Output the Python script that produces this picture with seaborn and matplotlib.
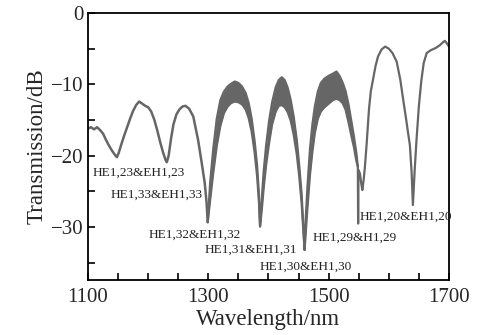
import matplotlib
matplotlib.use("Agg")
import matplotlib.pyplot as plt
from matplotlib.ticker import MultipleLocator
import seaborn as sns
import pandas as pd

# clean part of the spectrum before the noisy lobes (nm, dB)
wl_left = [1100, 1105, 1110, 1115, 1120, 1125, 1130, 1135, 1140, 1145, 1148, 1151,
           1155, 1160, 1165, 1170, 1175, 1180, 1185, 1190, 1195, 1200, 1205, 1210,
           1215, 1220, 1225, 1229, 1231, 1234, 1238, 1242, 1247, 1252, 1257, 1262,
           1268, 1275, 1283, 1289, 1294, 1297, 1299]
tr_left = [-16.2, -16.0, -16.3, -16.0, -16.4, -16.9, -17.8, -18.6, -19.3, -19.9, -20.2, -19.6,
           -18.5, -17.2, -16.0, -14.8, -13.7, -12.9, -12.4, -12.7, -13.0, -13.2, -13.8, -14.9,
           -16.4, -18.1, -19.6, -20.6, -20.9, -20.0, -17.6, -15.6, -14.2, -13.5, -13.1, -13.0,
           -13.4, -14.5, -17.8, -21.0, -23.8, -26.5, -29.3]

# noisy region 1300-1550 nm, upper and lower envelope of the trace
band_wl = [1299, 1303, 1308, 1314, 1320, 1326, 1332, 1338, 1344, 1350, 1356, 1362, 1367,
           1372, 1377, 1381, 1384, 1386,
           1389, 1392, 1396, 1401, 1406, 1412, 1417, 1422, 1427, 1432, 1437, 1442, 1447,
           1451, 1455, 1458, 1460,
           1462, 1465, 1469, 1473, 1477, 1482, 1487, 1493, 1500, 1507, 1513, 1518, 1523,
           1528, 1533, 1538, 1542, 1546, 1548.5]
band_hi = [-29.3, -23.8, -19.2, -14.8, -12.2, -11.0, -10.3, -9.9, -9.6, -9.8, -10.3, -11.2, -12.6,
           -14.8, -18.0, -21.3, -25.3, -29.9,
           -25.8, -22.2, -18.6, -15.1, -12.5, -10.4, -9.4, -9.0, -9.4, -10.5, -12.2, -14.6, -17.8,
           -21.3, -25.3, -30.0, -33.2,
           -28.6, -24.0, -19.0, -15.6, -13.1, -11.0, -9.8, -9.2, -8.8, -8.5, -8.2, -8.8, -9.7,
           -10.9, -12.8, -15.3, -17.3, -19.6, -21.5]
band_lo = [-29.3, -26.2, -22.5, -18.6, -15.8, -14.0, -13.1, -12.6, -12.4, -12.5, -12.8, -13.5, -14.7,
           -16.6, -19.6, -22.8, -26.3, -29.9,
           -27.4, -24.5, -21.3, -18.2, -15.6, -13.8, -13.0, -12.9, -13.2, -13.9, -15.1, -17.1, -19.8,
           -22.8, -26.6, -30.6, -33.2,
           -30.6, -27.0, -22.6, -19.4, -16.8, -14.8, -13.8, -13.2, -12.7, -12.2, -12.0, -12.2, -12.6,
           -13.5, -15.3, -17.3, -18.8, -20.7, -21.5]

# clean part after the noisy lobes
wl_right = [1548.5, 1549.0, 1549.5, 1552, 1554, 1556, 1558, 1560, 1563, 1567, 1570, 1574,
            1578, 1582, 1588, 1594, 1600, 1606, 1613, 1619, 1624, 1629, 1632, 1635,
            1638, 1640, 1643, 1646, 1650, 1654, 1658, 1663, 1670, 1678, 1685, 1690,
            1693, 1696, 1700]
tr_right = [-21.5, -29.5, -22.0, -22.5, -23.8, -24.8, -23.5, -21.8, -18.5, -13.5, -11.0, -9.2,
            -7.4, -6.1, -5.1, -4.7, -5.0, -5.6, -6.8, -9.3, -12.2, -15.0, -16.8, -18.5,
            -22.5, -26.9, -22.0, -17.8, -13.0, -9.5, -7.0, -5.6, -5.2, -4.9, -4.5, -4.1,
            -3.9, -4.2, -4.7]

mode_labels = ["HE1,23&EH1,23", "HE1,33&EH1,33", "HE1,32&EH1,32", "HE1,31&EH1,31",
               "HE1,30&EH1,30", "HE1,29&H1,29", "HE1,20&EH1,20"]
label_x = [1108, 1137, 1200, 1294, 1386, 1474, 1552]
label_y = [-22.4, -25.5, -31.0, -33.2, -35.5, -31.5, -28.5]

sns.set_style("ticks")
plt.rcParams["font.family"] = ["Liberation Serif", "DejaVu Serif"]
plt.rcParams["axes.unicode_minus"] = True

line_color = "#666666"

fig = plt.figure(figsize=(4.82, 3.35), dpi=100)
ax = fig.add_axes([0.1826, 0.1642, 0.9315 - 0.1826, 0.9612 - 0.1642])

left = pd.DataFrame({"wl": wl_left, "tr": tr_left})
right = pd.DataFrame({"wl": wl_right, "tr": tr_right})
band = pd.DataFrame({"wl": band_wl, "hi": band_hi, "lo": band_lo})

sns.lineplot(data=left, x="wl", y="tr", ax=ax, color=line_color, lw=1.8)
sns.lineplot(data=right, x="wl", y="tr", ax=ax, color=line_color, lw=1.6)
sns.lineplot(data=band, x="wl", y="hi", ax=ax, color=line_color, lw=1.6)
sns.lineplot(data=band, x="wl", y="lo", ax=ax, color=line_color, lw=1.6)
ax.fill_between(band["wl"], band["lo"], band["hi"], color=line_color, lw=0)

for txt, x, y in zip(mode_labels, label_x, label_y):
    ax.text(x, y, txt, fontsize=9.5, va="center", ha="left", color="#222222")

ax.set_xlim(1100, 1700)
ax.set_ylim(-37.4, 0)
ax.set_xticks([1100, 1300, 1500, 1700])
ax.set_yticks([0, -10, -20, -30])
ax.xaxis.set_minor_locator(MultipleLocator(50))
ax.yaxis.set_minor_locator(MultipleLocator(5))
ax.tick_params(which="both", direction="in", length=5, width=1.2,
               top=False, right=False, labelsize=15, color="black")
ax.tick_params(axis="x", pad=6)

for sp in ax.spines.values():
    sp.set_linewidth(1.3)
    sp.set_color("black")

ax.set_xlabel("Wavelength/nm", fontsize=16.5, labelpad=1)
ax.set_ylabel("Transmission/dB", fontsize=16.5, labelpad=2)

fig.savefig("out.png", dpi=100, facecolor="white")
